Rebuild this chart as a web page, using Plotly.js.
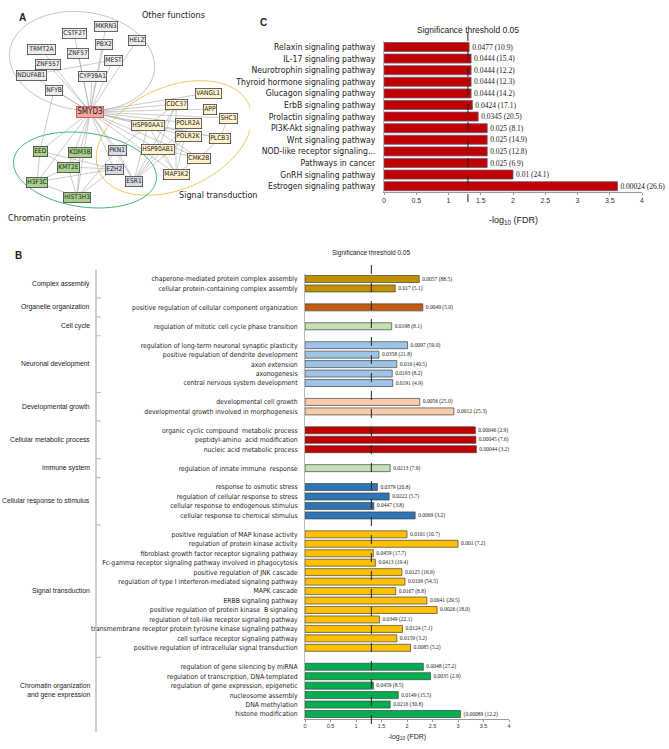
<!DOCTYPE html>
<html>
<head>
<meta charset="utf-8">
<script src="https://cdn.plot.ly/plotly-3.0.1.min.js"></script>
<style>html,body{margin:0;padding:0;background:#fff;}#chart{width:669px;height:749px;}</style>
</head>
<body>
<div id="chart"></div>
<script>
// ---------------- Panel A: network ----------------
const nodeNames = ["SMYD3","MKRN3","CSTF2T","HELZ","PBX2","TRMT2A","ZNF57","MEST","ZNF557","NDUFAB1","CYP39A1","NFYB",
  "VANGL1","CDC37","APP","SHC3","HSP90AA1","POLR2A","POLR2K","PLCB3","HSP90AB1","CMK2B","MAP3K2",
  "PKN1","EZH2","ESR1","EED","KDM3B","KMT2E","H3F3C","HIST3H3"];
const nodeX = [90,106,74,137,104,41,78,113,48,31,92,54, 208,176,210,228,148,188,188,220,158,199,176, 117,114,134, 40,80,68,37,77];
const nodeY = [112,26,33,40,44,49,53,60,64,75,76,90, 93,104,109,118,125,123,136,138,149,158,174, 150,169,181, 151,152,167,182,197];
const nodeGroup = ["hub","other","other","other","other","other","other","other","other","other","other","other",
  "signal","signal","signal","signal","signal","signal","signal","signal","signal","signal","signal",
  "bridge","bridge","bridge","chromatin","chromatin","chromatin","chromatin","chromatin"];
const extraEdges = [["NFYB","EED"],["NDUFAB1","MEST"],
  ["EED","KMT2E"],["EED","H3F3C"],["KDM3B","KMT2E"],["KMT2E","HIST3H3"],["H3F3C","HIST3H3"],["KMT2E","H3F3C"],
  ["HIST3H3","EZH2"],["HIST3H3","PKN1"],["KMT2E","EZH2"],["EED","EZH2"],["KDM3B","HIST3H3"],["EZH2","ESR1"],["PKN1","ESR1"],["H3F3C","EZH2"],
  ["HSP90AA1","MAP3K2"],["HSP90AA1","ESR1"],["HSP90AB1","ESR1"],["HSP90AB1","MAP3K2"],["CDC37","MAP3K2"],["CDC37","HSP90AB1"],
  ["CDC37","HSP90AA1"],["POLR2A","MAP3K2"],["POLR2A","ESR1"],["POLR2K","ESR1"],["CMK2B","MAP3K2"],["HSP90AA1","CMK2B"],
  ["PLCB3","CMK2B"],["HSP90AA1","PLCB3"],["HSP90AB1","CMK2B"],["SHC3","PLCB3"],["HSP90AA1","PKN1"],["CDC37","ESR1"]];
const groupLabelsA = ["Other functions","Signal transduction","Chromatin proteins"];

// ---------------- Panel C: KEGG ----------------
const cTerms = ["Relaxin signaling pathway","IL-17 signaling pathway","Neurotrophin signaling pathway","Thyroid hormone signaling pathway",
  "Glucagon signaling pathway","ErbB signaling pathway","Prolactin signaling pathway","PI3K-Akt signaling pathway","Wnt signaling pathway",
  "NOD-like receptor signaling...","Pathways in cancer","GnRH signaling pathway","Estrogen signaling pathway"];
const cValues = [1.32,1.35,1.35,1.35,1.35,1.37,1.46,1.60,1.60,1.60,1.60,2.00,3.62];
const cLabels = ["0.0477 (10.9)","0.0444 (15.4)","0.0444 (12.2)","0.0444 (12.3)","0.0444 (14.2)","0.0424 (17.1)","0.0345 (20.5)",
  "0.025 (8.1)","0.025 (14.9)","0.025 (12.8)","0.025 (6.9)","0.01 (24.1)","0.00024 (26.6)"];

// ---------------- Panel B: GO ----------------
const bGroups = ["Complex assembly","Organelle organization","Cell cycle","Neuronal development","Developmental growth",
  "Cellular metabolic process","Immune system","Cellular response to stimulus","Signal transduction","Chromatin organization<br>and gene expression"];
const bGroupColors = ["#bf9000","#c55a11","#c5e0b4","#9dc3e6","#f8cbad","#c00000","#c5e0b4","#2e75b6","#ffc000","#00b050"];
const bTerms = ["chaperone-mediated protein complex assembly","cellular protein-containing complex assembly",
  "positive regulation of cellular component organization",
  "regulation of mitotic cell cycle phase transition",
  "regulation of long-term neuronal synaptic plasticity","positive regulation of dendrite development","axon extension","axonogenesis","central nervous system development",
  "developmental cell growth","developmental growth involved in morphogenesis",
  "organic cyclic compound  metabolic process","peptidyl-amino  acid modification","nucleic acid metabolic process",
  "regulation of innate immune  response",
  "response to osmotic stress","regulation of cellular response to stress","cellular response to endogenous stimulus","cellular response to chemical stimulus",
  "positive regulation of MAP kinase activity","regulation of protein kinase activity","fibroblast growth factor receptor signaling pathway",
  "Fc-gamma receptor signaling pathway involved in phagocytosis","positive regulation of JNK cascade","regulation of type I interferon-mediated signaling pathway",
  "MAPK cascade","ERBB signaling pathway","positive regulation of protein kinase  B signaling","regulation of toll-like receptor signaling pathway",
  "transmembrane receptor protein tyrosine kinase signaling pathway","cell surface receptor signaling pathway","positive regulation of intracellular signal transduction",
  "regulation of gene silencing by miRNA","regulation of transcription, DNA-templated","regulation of gene expression, epigenetic",
  "nucleosome assembly","DNA methylation","histone modification"];
const bGroupIndex = [0,0,1,2,3,3,3,3,3,4,4,5,5,5,6,7,7,7,7,8,8,8,8,8,8,8,8,8,8,8,8,8,9,9,9,9,9,9];
const bValues = [2.24,1.77,2.31,1.70,2.01,1.45,1.80,1.71,1.72,2.25,2.92,3.34,3.35,3.36,1.67,1.42,1.65,1.35,2.16,
  2.00,3.00,1.34,1.38,1.90,1.96,1.78,2.39,2.59,1.46,1.91,1.80,2.07,2.32,2.46,1.34,1.83,1.67,3.05];
const bLabels = ["0.0057 (88.5)","0.017 (5.1)","0.0049 (5.0)","0.0198 (8.1)","0.0097 (59.0)","0.0358 (21.8)","0.016 (40.5)","0.0193 (8.2)","0.0191 (4.9)",
  "0.0056 (25.0)","0.0012 (25.3)","0.00046 (2.9)","0.00045 (7.6)","0.00044 (3.2)","0.0213 (7.9)","0.0379 (20.8)","0.0222 (5.7)","0.0447 (3.8)","0.0069 (3.2)",
  "0.0101 (10.7)","0.001 (7.2)","0.0459 (17.7)","0.0413 (19.4)","0.0125 (16.9)","0.0109 (54.5)","0.0167 (8.8)","0.0041 (29.5)","0.0026 (18.0)","0.0349 (22.1)",
  "0.0124 (7.1)","0.0159 (3.2)","0.0085 (5.2)","0.0048 (27.2)","0.0035 (2.9)","0.0459 (8.5)","0.0149 (15.5)","0.0216 (30.8)","(0.00089 (12.2)"];
const xTicks = [0,0.5,1,1.5,2,2.5,3,3.5,4];
const threshold = 0.05;

// ---------------- helpers ----------------
const W = 669, H = 749;
const px = v => v / W, py = v => 1 - v / H;
const NARROW = "DejaVu Sans Condensed, Liberation Sans Narrow, Roboto, sans-serif";
const SANS = "Liberation Sans, Arial, sans-serif";
const SERIF = "Liberation Serif, DejaVu Serif, serif";
const thrX = -Math.log10(threshold);

// rows for panel B (a blank row between groups)
const bRows = []; let row = 0;
bGroupIndex.forEach((g, i) => { if (i > 0 && g !== bGroupIndex[i-1]) row++; bRows.push(row); row++; });
const nRows = row;
const blankRows = [];
bGroupIndex.forEach((g, i) => { if (i > 0 && g !== bGroupIndex[i-1]) blankRows.push(bRows[i]-1); });

// edges
const idx = {}; nodeNames.forEach((n,i)=>idx[n]=i);
const edges = nodeNames.slice(1).map(n => ["SMYD3", n]).concat(extraEdges);
const ex = [], ey = [];
edges.forEach(([a,b]) => { ex.push(nodeX[idx[a]], nodeX[idx[b]], null); ey.push(nodeY[idx[a]], nodeY[idx[b]], null); });

function ellipsePath(cx, cy, rx, ry, angDeg) {
  const a = angDeg * Math.PI / 180; let s = "";
  for (let i = 0; i <= 90; i++) {
    const t = 2 * Math.PI * i / 90;
    const x = cx + rx*Math.cos(t)*Math.cos(a) - ry*Math.sin(t)*Math.sin(a);
    const y = cy + rx*Math.cos(t)*Math.sin(a) + ry*Math.sin(t)*Math.cos(a);
    s += (i === 0 ? "M" : "L") + x.toFixed(2) + "," + y.toFixed(2);
  }
  return s + "Z";
}

const nodeStyle = {
  hub: {bg:"#f4a6a0", bc:"#c0504d", size:8},
  other: {bg:"#ededed", bc:"#404040", size:6.6},
  signal: {bg:"#fff2cc", bc:"#404040", size:6.6},
  bridge: {bg:"#d6dce5", bc:"#404040", size:6.6},
  chromatin: {bg:"#a9d18e", bc:"#404040", size:6.6}
};

const traces = [
  {type:"scatter", mode:"lines", x:ex, y:ey, xaxis:"x", yaxis:"y", line:{color:"#a8a8a8", width:0.6}, hoverinfo:"skip"},
  {type:"bar", orientation:"h", x:cValues, y:cTerms, xaxis:"x2", yaxis:"y2", width:0.78,
   marker:{color:"#c00000", line:{color:"#6b5a78", width:0.8}},
   text:cLabels, textposition:"outside", cliponaxis:false, constraintext:"none",
   outsidetextfont:{family:SERIF, size:7.5, color:"#222"}},
  {type:"bar", orientation:"h", x:bValues, y:bRows, xaxis:"x3", yaxis:"y3", width:0.74,
   marker:{color:bGroupIndex.map(g=>bGroupColors[g]), line:{color:"#404040", width:0.7}},
   text:bLabels, textposition:"outside", cliponaxis:false, constraintext:"none",
   outsidetextfont:{family:SERIF, size:5.5, color:"#222"}}
];

const annotations = [];
nodeNames.forEach((n,i) => {
  const st = nodeStyle[nodeGroup[i]];
  annotations.push({xref:"x", yref:"y", x:nodeX[i], y:nodeY[i], text:n, showarrow:false,
    font:{family:NARROW, size:st.size, color:"#222"}, bgcolor:st.bg, bordercolor:st.bc, borderwidth:0.8, borderpad:0.5});
});
const groupPos = [[173,15],[218,195],[47,218]];
groupLabelsA.forEach((t,i)=>annotations.push({xref:"x", yref:"y", x:groupPos[i][0], y:groupPos[i][1], text:t, showarrow:false,
  font:{family:NARROW, size:9, color:"#222"}}));
// panel letters
[["A",17,10],["C",263,15],["B",13,248]].forEach(([t,x,y])=>annotations.push({xref:"paper", yref:"paper", x:px(x), y:py(y), text:"<b>"+t+"</b>",
  showarrow:false, font:{family:SANS, size:10, color:"#222"}}));
// threshold titles
annotations.push({xref:"x2", yref:"paper", x:thrX, y:py(23), text:"Significance threshold 0.05", showarrow:false, font:{family:SANS, size:8.5, color:"#222"}});
annotations.push({xref:"x3", yref:"paper", x:thrX, y:py(253), text:"Significance threshold 0.05", showarrow:false, font:{family:SANS, size:6.5, color:"#222"}});
// x titles
annotations.push({xref:"x2", yref:"paper", x:2, y:py(213), text:"-log<sub>10</sub> (FDR)", showarrow:false, font:{family:SANS, size:9, color:"#222"}});
annotations.push({xref:"x3", yref:"paper", x:2, y:py(743), text:"-log<sub>10</sub> (FDR)", showarrow:false, font:{family:SANS, size:7, color:"#222"}});
// group labels B
bGroups.forEach((g,gi)=>{
  const r = bRows.filter((_,i)=>bGroupIndex[i]===gi);
  const c = (r[0] + r[r.length-1]) / 2;
  annotations.push({xref:"paper", yref:"y3", x:px(92), y:c, xanchor:"right", align:"right", text:g, showarrow:false,
    font:{family:SANS, size:6.8, color:"#222"}});
});

const shapes = [
  {type:"path", xref:"x", yref:"y", path:ellipsePath(82,61,73,49,8), line:{color:"#c4c4c4", width:1}, layer:"below"},
  {type:"path", xref:"x", yref:"y", path:ellipsePath(174,138,82,51,-24), line:{color:"#f2c75c", width:1}, layer:"below"},
  {type:"path", xref:"x", yref:"y", path:ellipsePath(85,170,72,37,8), line:{color:"#3fb878", width:1}, layer:"below"},
  {type:"line", xref:"x2", yref:"paper", x0:thrX, x1:thrX, y0:py(32), y1:py(202), line:{color:"#222", width:1, dash:"dash"}},
  {type:"line", xref:"x3", yref:"paper", x0:thrX, x1:thrX, y0:py(265), y1:py(732), line:{color:"#222", width:1, dash:"dash"}},
  {type:"line", xref:"paper", yref:"paper", x0:px(96), x1:px(96), y0:py(270), y1:py(732), line:{color:"#bfbfbf", width:1.5}}
];
blankRows.forEach(r => shapes.push({type:"line", xref:"paper", yref:"y3", x0:px(96), x1:px(101), y0:r, y1:r, line:{color:"#bfbfbf", width:1.2}}));

const cStep = 11.6, bStep = 9.457;
const layout = {
  width:W, height:H, margin:{l:0,r:0,t:0,b:0}, paper_bgcolor:"#fff", plot_bgcolor:"rgba(0,0,0,0)", showlegend:false,
  xaxis:{domain:[0, px(250)], range:[0,250], visible:false, fixedrange:true},
  yaxis:{domain:[py(225), 1], range:[225,0], visible:false, fixedrange:true},
  xaxis2:{domain:[px(384), px(642)], range:[0,4], anchor:"y2", tickvals:xTicks, ticktext:xTicks.map(String),
    showline:true, linecolor:"#999", linewidth:1, ticks:"outside", ticklen:2, tickcolor:"#999", showgrid:false, zeroline:false,
    tickfont:{family:SANS, size:7, color:"#333"}},
  yaxis2:{domain:[py(47+6*2*cStep+cStep/2), py(47-cStep/2)], anchor:"x2", autorange:"reversed", type:"category",
    tickmode:"array", tickvals:cTerms, ticktext:cTerms,
    showline:true, linecolor:"#bbb", linewidth:1, ticks:"", showgrid:false, ticklabelstandoff:6,
    tickfont:{family:NARROW, size:8.6, color:"#222"}},
  xaxis3:{domain:[px(305), px(509)], range:[0,4], anchor:"y3", tickvals:xTicks, ticktext:xTicks.map(String),
    showline:true, linecolor:"#999", linewidth:1, ticks:"outside", ticklen:2, tickcolor:"#999", showgrid:false, zeroline:false,
    tickfont:{family:SANS, size:5.5, color:"#333"}},
  yaxis3:{domain:[py(279+(nRows-1)*bStep+bStep/2), py(279-bStep/2)], anchor:"x3", range:[nRows-0.5,-0.5],
    tickmode:"array", tickvals:bRows, ticktext:bTerms, showline:true, linecolor:"#bbb", linewidth:1, ticks:"", showgrid:false, zeroline:false,
    ticklabelstandoff:5, tickfont:{family:NARROW, size:6.8, color:"#222"}},
  annotations, shapes
};
Plotly.newPlot("chart", traces, layout, {displayModeBar:false, staticPlot:true});
</script>
</body>
</html>
